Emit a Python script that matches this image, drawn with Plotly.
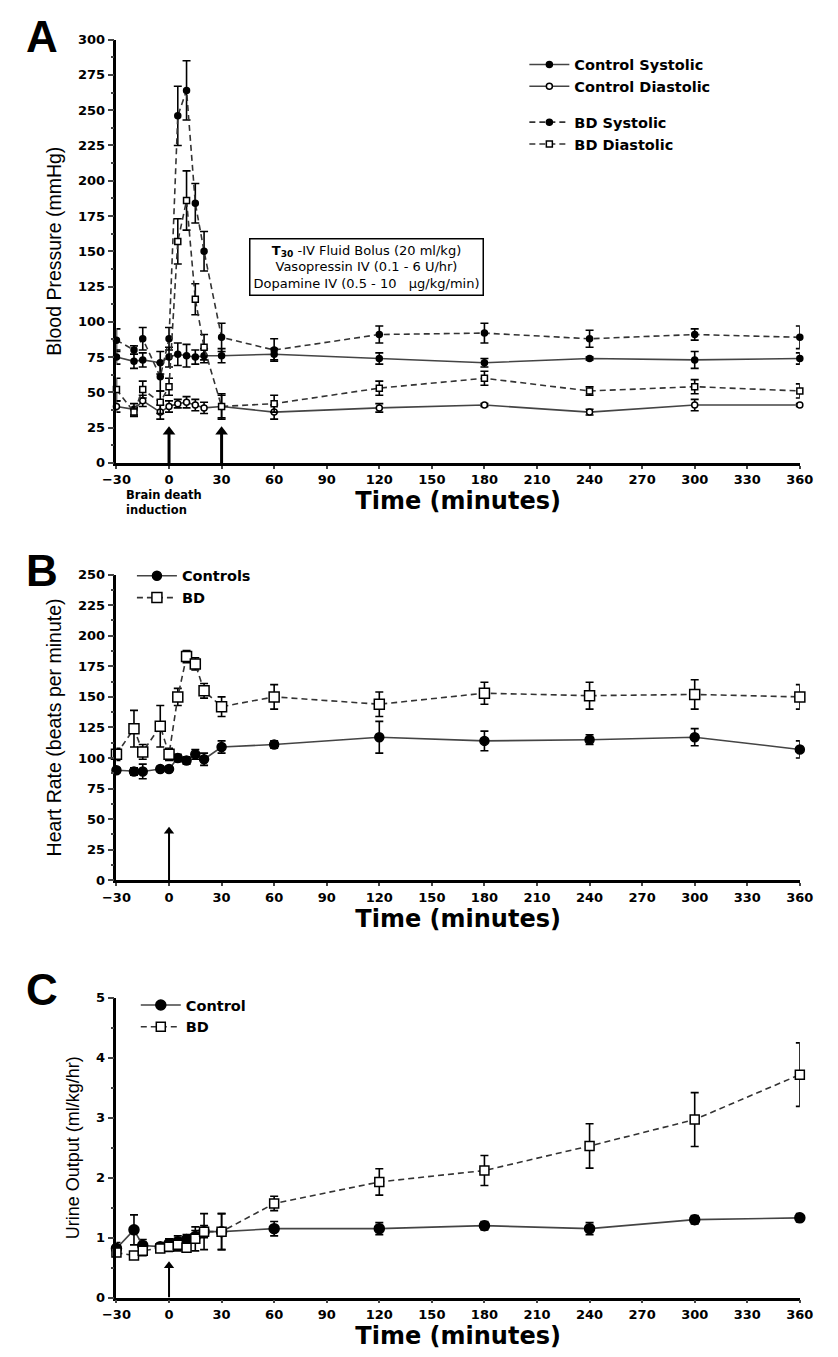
import plotly.graph_objects as go

# ---------------- data ----------------
times = [-30, -20, -15, -5, 0, 5, 10, 15, 20, 30, 60, 120, 180, 240, 300, 360]

# Panel A: blood pressure (mmHg)
ctrl_sys = [75, 72, 73, 71, 75, 77, 76, 75, 76, 76, 77, 74, 71, 74, 73, 74]
ctrl_sys_err = [5, 5, 5, 8, 7, 8, 8, 5, 5, 5, 4, 4, 3, 1, 6, 4]
ctrl_dia = [40, 38, 44, 36, 40, 42, 43, 41, 39, 40, 36, 39, 41, 36, 41, 41]
ctrl_dia_err = [4, 4, 4, 5, 4, 3, 4, 4, 4, 8, 5, 3, 1, 2, 4, 1]
bd_sys = [87, 80, 88, 61, 88, 246, 264, 184, 150, 89, 80, 91, 92, 88, 91, 89]
bd_sys_err = [8, 3, 8, 10, 8, 21, 21, 14, 14, 10, 8, 6, 7, 6, 4, 8]
bd_dia = [52, 36, 52, 43, 54, 157, 186, 116, 82, 40, 42, 53, 60, 51, 54, 51]
bd_dia_err = [8, 3, 6, 8, 6, 16, 21, 11, 9, 9, 6, 5, 5, 3, 5, 5]

# Panel B: heart rate (bpm)
hr_ctrl = [90, 89, 89, 91, 91, 100, 98, 103, 99, 109, 111, 117, 114, 115, 117, 107]
hr_ctrl_err = [2, 3, 6, 2, 2, 3, 3, 4, 5, 5, 3, 13, 8, 4, 7, 7]
hr_bd = [103, 124, 105, 126, 103, 150, 183, 177, 155, 142, 150, 144, 153, 151, 152, 150]
hr_bd_err = [5, 15, 6, 17, 5, 7, 5, 5, 6, 8, 10, 10, 9, 11, 12, 10]

# Panel C: urine output (ml/kg/hr)
uo_ctrl = [0.82, 1.13, 0.87, 0.85, 0.90, 0.93, 0.97, 1.02, 1.10, 1.10, 1.15, 1.15, 1.20, 1.15, 1.30, 1.33]
uo_ctrl_err = [0.10, 0.25, 0.10, 0.05, 0.08, 0.10, 0.08, 0.10, 0.10, 0.30, 0.12, 0.10, 0.07, 0.10, 0.07, 0.07]
uo_bd = [0.75, 0.70, 0.78, 0.82, 0.85, 0.88, 0.83, 0.98, 1.10, 1.10, 1.57, 1.93, 2.12, 2.53, 2.97, 3.72]
uo_bd_err = [0.05, 0.05, 0.08, 0.05, 0.08, 0.10, 0.05, 0.20, 0.30, 0.30, 0.12, 0.22, 0.25, 0.37, 0.45, 0.53]

x_ticks = [-30, 0, 30, 60, 90, 120, 150, 180, 210, 240, 270, 300, 330, 360]
# brain-death arrows: (time, arrow tip value)
arrows_A = [(0, 22), (30, 22)]
arrows_B = [(0, 40)]
arrows_C = [(0, 0.53)]

# ---------------- style ----------------
W, H = 838, 1357
TICKFONT = dict(family="DejaVu Sans", size=13, color="black", weight="bold")
XTITLEFONT = dict(family="DejaVu Sans", size=24, color="black", weight="bold")
LEGFONT = dict(family="DejaVu Sans", size=14.5, color="black", weight="bold")
SOLID = "#444444"
DASHC = "#333333"
DASH = "6px,4px"


def py(px):
    return 1 - px / H


def px_(x):
    return x / W


fig = go.Figure()


def add(x, y, err, name, xa, ya, dash, symbol, size, legend, group=None, fill="black"):
    fig.add_trace(go.Scatter(
        x=x, y=y, name=name, xaxis=xa, yaxis=ya, mode="lines+markers",
        line=dict(color=DASHC if dash != "solid" else SOLID, width=1.6, dash=dash),
        marker=dict(symbol=symbol, size=size, color=fill,
                    line=dict(color="black", width=1.5)),
        error_y=dict(type="data", array=err, visible=True, color="black",
                     thickness=1.6, width=4),
        cliponaxis=False, legend=legend, legendgroup=group,
    ))


def arrow(t, tip, xa, ya, width, head):
    fig.add_trace(go.Scatter(
        x=[t, t], y=[0, tip], xaxis=xa, yaxis=ya, mode="lines",
        line=dict(color="black", width=width), showlegend=False, hoverinfo="skip",
        cliponaxis=False))
    fig.add_trace(go.Scatter(
        x=[t], y=[tip], xaxis=xa, yaxis=ya, mode="markers",
        marker=dict(symbol="triangle-up", size=head, color="black", line=dict(width=0)),
        showlegend=False, hoverinfo="skip", cliponaxis=False))


# Panel A
add(times, ctrl_sys, ctrl_sys_err, "Control Systolic", "x", "y", "solid", "circle", 6, "legend", "c")
add(times, ctrl_dia, ctrl_dia_err, "Control Diastolic", "x", "y", "solid", "circle", 6, "legend", "c", fill="white")
add(times, bd_sys, bd_sys_err, "BD Systolic", "x", "y", DASH, "circle", 6, "legend", "b")
add(times, bd_dia, bd_dia_err, "BD Diastolic", "x", "y", DASH, "square", 6, "legend", "b", fill="white")
# Panel B
add(times, hr_ctrl, hr_ctrl_err, "Controls", "x2", "y2", "solid", "circle", 9, "legend2")
add(times, hr_bd, hr_bd_err, "BD", "x2", "y2", DASH, "square", 10, "legend2", fill="white")
# Panel C
add(times, uo_ctrl, uo_ctrl_err, "Control", "x3", "y3", "solid", "circle", 10, "legend3")
add(times, uo_bd, uo_bd_err, "BD", "x3", "y3", DASH, "square", 9, "legend3", fill="white")

for t, tip in arrows_A:
    arrow(t, tip, "x", "y", 3, 11)
for t, tip in arrows_B:
    arrow(t, tip, "x2", "y2", 2, 9)
for t, tip in arrows_C:
    arrow(t, tip, "x3", "y3", 2, 9)

xdom = [px_(106), px_(813)]
panels = {
    "A": dict(top=33, bot=461, rng=[0, 300], dt=25, minor=12.5,
              title="Blood Pressure (mmHg)", tsize=19.5),
    "B": dict(top=574, bot=883, rng=[0, 250], dt=25, minor=12.5,
              title="Heart Rate (beats per minute)", tsize=19.5),
    "C": dict(top=1002, bot=1305, rng=[0, 5], dt=1, minor=0.5,
              title="Urine Output (ml/kg/hr)", tsize=18),
}

layout = dict(width=W, height=H, paper_bgcolor="white", plot_bgcolor="white",
              margin=dict(l=0, r=0, t=0, b=0), showlegend=True)

for i, (key, p) in enumerate(panels.items()):
    sfx = "" if i == 0 else str(i + 1)
    layout["xaxis" + sfx] = dict(
        domain=xdom, anchor="y" + sfx, range=[-30, 360], tickvals=x_ticks,
        ticks="outside", ticklen=3, tickwidth=2, showline=True, linewidth=2.5,
        linecolor="black", showgrid=False, zeroline=False, tickfont=TICKFONT,
        title=dict(text="Time (minutes)", font=XTITLEFONT, standoff=0),
    )
    layout["yaxis" + sfx] = dict(
        domain=[py(p["bot"]), py(p["top"])], anchor="x" + sfx, range=p["rng"],
        dtick=p["dt"], ticks="outside", ticklen=6, tickwidth=2, showline=True,
        linewidth=2.5, linecolor="black", showgrid=False, zeroline=False,
        tickfont=TICKFONT,
        minor=dict(dtick=p["minor"], ticks="outside", ticklen=3, tickwidth=1.5, showgrid=False),
        title=dict(text=p["title"], standoff=12,
                   font=dict(family="Liberation Sans Narrow, Liberation Sans",
                             size=p["tsize"], color="black")),
    )

layout["legend"] = dict(x=px_(528), y=py(42), xanchor="left", yanchor="top",
                        font=LEGFONT, bgcolor="rgba(0,0,0,0)", traceorder="grouped",
                        tracegroupgap=14, itemwidth=40)
layout["legend2"] = dict(x=px_(122), y=py(559), xanchor="left", yanchor="top",
                         font=LEGFONT, bgcolor="rgba(0,0,0,0)", itemwidth=40,
                         tracegroupgap=0)
layout["legend3"] = dict(x=px_(126), y=py(993), xanchor="left", yanchor="top",
                         font=LEGFONT, bgcolor="rgba(0,0,0,0)", itemwidth=40)

fig.update_layout(**layout)

ann = []
for letter, (xp, yp) in zip("ABC", [(10, 3), (10, 543), (10, 967)]):
    ann.append(dict(text="<b>%s</b>" % letter, xref="paper", yref="paper",
                    x=px_(xp), y=py(yp), xanchor="left", yanchor="top", showarrow=False,
                    font=dict(family="Liberation Sans", size=44, color="black")))

ann.append(dict(text="<b>Brain death<br>induction</b>", xref="paper", yref="paper",
                x=px_(114), y=py(484), xanchor="left", yanchor="top", align="left",
                showarrow=False, font=dict(family="DejaVu Sans", size=11.5, color="black")))

ann.append(dict(text="<b>T</b><sub><b>30</b></sub> -IV Fluid Bolus (20 ml/kg)<br>"
                     "Vasopressin IV (0.1 - 6 U/hr)<br>"
                     "Dopamine IV (0.5 - 10   µg/kg/min)",
                xref="paper", yref="paper", x=px_(365), y=py(263),
                xanchor="center", yanchor="middle", showarrow=False, align="center",
                bordercolor="black", borderwidth=1.5, borderpad=3, bgcolor="white",
                font=dict(family="DejaVu Sans", size=13, color="black")))

fig.update_layout(annotations=ann)
fig.write_html("out.html", config={"displayModeBar": False},
               post_script="document.body.style.margin='0px';document.body.style.overflow='hidden';")
